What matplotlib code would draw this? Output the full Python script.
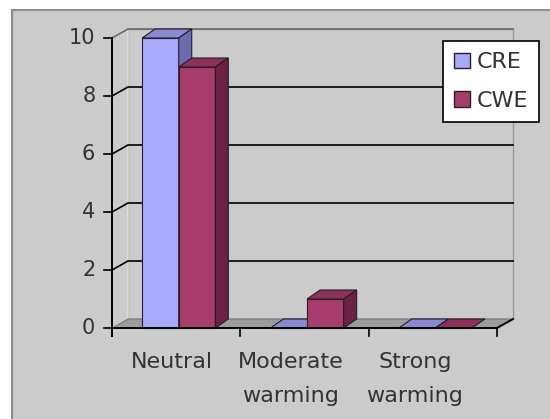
import matplotlib
matplotlib.use("Agg")
import matplotlib.pyplot as plt
from matplotlib.patches import Polygon, Rectangle

categories = ["Neutral", "Moderate\nwarming", "Strong\nwarming"]
series_names = ["CRE", "CWE"]
cre = [10, 0, 0]
cwe = [9, 1, 0]
yticks = [0, 2, 4, 6, 8, 10]

# colours: front, top, side
colors = {
    "CRE": ("#a9a9fb", "#8a8ad2", "#6c6cae"),
    "CWE": ("#a63d6c", "#8c3159", "#6a2342"),
}
PANEL = "#cbcbcb"
FLOOR = "#9c9c9c"
TXT = "#333333"

W, H, DPI = 550, 419, 100
fig = plt.figure(figsize=(W / DPI, H / DPI), dpi=DPI, facecolor="white")
fig.patches.append(Rectangle((12 / W, -0.01), 1.0, 1 - 10 / H + 0.01, transform=fig.transFigure,
                             facecolor=PANEL, edgecolor="#8c8c8c", lw=1.5, zorder=-10))

# front plotting box in pixels: x 112..497, y 328 (0) .. 38 (10)
x0, x1, y0, y1 = 112, 497, 328, 38
ax = fig.add_axes([x0 / W, 1 - y0 / H, (x1 - x0) / W, (y0 - y1) / H])
ax.set_zorder(1)
ax.set_xlim(0, len(categories))
ax.set_ylim(0, 10)
ax.axis("off")
ax.patch.set_visible(False)

px_x = len(categories) / (x1 - x0)
px_y = 10 / (y0 - y1)
DX, DY = 16 * px_x, 9 * px_y
n = len(categories)

# walls and floor
ax.add_patch(Polygon([(DX, DY), (n + DX, DY), (n + DX, 10 + DY), (DX, 10 + DY)],
                     facecolor=PANEL, edgecolor="#9a9a9a", lw=1.0, zorder=1, clip_on=False))
ax.add_patch(Polygon([(0, 0), (DX, DY), (DX, 10 + DY), (0, 10)],
                     facecolor=PANEL, edgecolor="#e2e2e2", lw=1.0, zorder=1, clip_on=False))
ax.add_patch(Polygon([(0, 0), (n, 0), (n + DX, DY), (DX, DY)],
                     facecolor=FLOOR, edgecolor="#777777", lw=0.8, zorder=2, clip_on=False))

for v in yticks[1:]:
    c = "#6a6a6a" if v == yticks[-1] else "black"
    ax.plot([0, DX, n + DX], [v, v + DY, v + DY], color=c, lw=1.2, zorder=2, clip_on=False)

# bars
bw = 0.285
bdx = 13 * px_x
for i in range(n):
    start = i + 0.5 - bw + 0.02
    for j, (name, vals) in enumerate(zip(series_names, [cre, cwe])):
        front, top, side = colors[name]
        l, h = start + j * bw, vals[i]
        ax.bar(l, h, bw, align="edge", color=front, edgecolor="#2a1a2a", lw=0.8,
               zorder=3 + j, clip_on=False)
        ax.add_patch(Polygon([(l, h), (l + bw, h), (l + bw + bdx, h + DY), (l + bdx, h + DY)],
                             facecolor=top, edgecolor="#2a1a2a", lw=0.8, zorder=3 + j, clip_on=False))
        if h > 0:
            ax.add_patch(Polygon([(l + bw, 0), (l + bw + bdx, DY), (l + bw + bdx, h + DY), (l + bw, h)],
                                 facecolor=side, edgecolor="#2a1a2a", lw=0.8, zorder=3 + j, clip_on=False))

# axes lines and ticks
tl_x, tl_y = 8 * px_x, 8 * px_y
ax.plot([0, 0], [-tl_y, 10], color="black", lw=1.4, zorder=6, clip_on=False)
ax.plot([0, n, n + DX], [0, 0, DY], color="black", lw=1.4, zorder=6, clip_on=False)
for v in yticks:
    ax.plot([-tl_x, 0], [v, v], color="black", lw=1.2, zorder=6, clip_on=False)
    ax.annotate(str(v), (0, v), xytext=(-12, 0), textcoords="offset points",
                ha="right", va="center", fontsize=15, color=TXT, zorder=6)
for i in range(n + 1):
    ax.plot([i, i], [0, -tl_y], color="black", lw=1.2, zorder=6, clip_on=False)
label_pos = [0.47, 1.39, 2.36]
for xp, lab in zip(label_pos, categories):
    ax.annotate(lab, (xp, 0), xytext=(0, -17), textcoords="offset points",
                ha="center", va="top", fontsize=16, color=TXT, linespacing=1.9,
                multialignment="center")

# legend
handles = [Rectangle((0, 0), 1, 1, facecolor=colors[s][0], edgecolor="#222222", lw=1.0)
           for s in series_names]
leg = fig.legend(handles, series_names, loc="upper left", bbox_to_anchor=(443 / W, 1 - 41 / H),
                 frameon=True, fancybox=False, fontsize=16, handlelength=0.7, handleheight=0.7,
                 handletextpad=0.3, borderpad=0.5, labelspacing=0.85, borderaxespad=0)
leg.get_frame().set_edgecolor("black")
leg.get_frame().set_linewidth(1.2)
leg.get_frame().set_facecolor("white")
leg.get_frame().set_alpha(1)
leg.set_zorder(10)
for t in leg.get_texts():
    t.set_color(TXT)

fig.savefig("out.png", dpi=DPI, facecolor=fig.get_facecolor())
